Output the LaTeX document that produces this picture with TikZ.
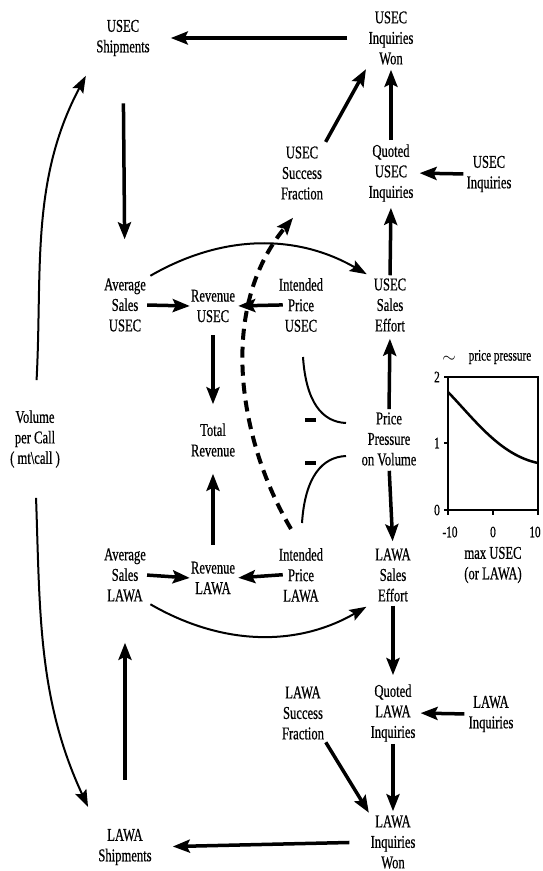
\documentclass[tikz,border=0pt]{standalone}
\usepackage{fontspec}
\setmainfont{Liberation Serif}[FakeStretch=0.7, FakeBold=0.6]
\usetikzlibrary{arrows.meta}

\begin{document}
\begin{tikzpicture}[
    x=1pt, y=1pt,
    every node/.style={align=center, inner sep=0pt, font=\fontsize{18}{20.5}\selectfont},
    arrow/.style={-{Stealth[length=17pt, width=13pt, inset=3pt]}, line width=3.5pt},
    curvearrow/.style={-{Stealth[length=17pt, width=12pt, inset=3pt]}, line width=2pt},
    feedback/.style={-{Stealth[length=17pt, width=13pt, inset=3pt]}, line width=4pt, dash pattern=on 11pt off 7pt},
    axis/.style={line width=1.2pt},
    small/.style={font=\fontsize{16}{18}\selectfont}
]
\useasboundingbox (0,0) rectangle (543,-871);

% Nodes
\node (shipU) at (123,-38) {USEC\\Shipments};
\node (wonU) at (391,-38) {USEC\\Inquiries\\Won};
\node (succU) at (302,-173) {USEC\\Success\\Fraction};
\node (quotU) at (391,-173) {Quoted\\USEC\\Inquiries};
\node (inqU) at (489,-174) {USEC\\Inquiries};

\node (avgU) at (125,-305) {Average\\Sales\\USEC};
\node (revU) at (213,-306) {Revenue\\USEC};
\node (intU) at (301,-305) {Intended\\Price\\USEC};
\node (effU) at (390,-305) {USEC\\Sales\\Effort};

\node (vol) at (35,-439) {Volume\\per Call\\( mt\textbackslash call )};
\node (total) at (213,-440) {Total\\Revenue};
\node (pp) at (389,-439) {Price\\Pressure\\on Volume};

\node (avgL) at (125,-575) {Average\\Sales\\LAWA};
\node (revL) at (213,-578) {Revenue\\LAWA};
\node (intL) at (301,-575) {Intended\\Price\\LAWA};
\node (effL) at (393,-575) {LAWA\\Sales\\Effort};

\node (succL) at (303,-713) {LAWA\\Success\\Fraction};
\node (quotL) at (393,-713) {Quoted\\LAWA\\Inquiries};
\node (inqL) at (491,-714) {LAWA\\Inquiries};
\node (wonL) at (393,-842) {LAWA\\Inquiries\\Won};
\node (shipL) at (125,-847) {LAWA\\Shipments};

% Edges
\draw[arrow, shorten <=21pt, shorten >=21pt] (wonU.west) -- (shipU.east);
\draw[arrow, shorten <=47pt, shorten >=39pt] (shipU.south) -- (avgU.north);
\draw[arrow, shorten <=4pt, shorten >=5pt] (quotU.north) -- (wonU.south);
\draw[arrow, shorten <=5pt, shorten >=5pt] (succU.north east) -- (wonU.south west);
\draw[arrow, shorten <=3pt, shorten >=6pt] (inqU.west) -- (quotU.east);
\draw[arrow, shorten <=3pt, shorten >=6pt] (effU.north) -- (quotU.south);

\draw[arrow, shorten <=1pt, shorten >=1pt] (avgU.east) -- (revU.west);
\draw[arrow, shorten <=-4pt, shorten >=3pt] (intU.west) -- (revU.east);
\draw[arrow, shorten <=13pt, shorten >=19pt] (revU.south) -- (total.north);
\draw[curvearrow, bend left=30, shorten <=5pt, shorten >=8pt] (avgU.north east) to (effU.north west);

\draw[arrow, shorten <=3pt, shorten >=7pt] (pp.north) -- (effU.south);
\draw[arrow, shorten <=5pt, shorten >=7pt] (pp.south) -- (effL.north);
\draw[arrow, shorten <=17pt, shorten >=17pt] (revL.north) -- (total.south);

\draw[arrow, shorten <=1pt, shorten >=1pt] (avgL.east) -- (revL.west);
\draw[arrow, shorten <=-4pt, shorten >=3pt] (intL.west) -- (revL.east);
\draw[curvearrow, bend right=30, shorten <=5pt, shorten >=10pt] (avgL.south east) to (effL.south west);

\draw[arrow, shorten <=4pt, shorten >=9pt] (effL.south) -- (quotL.north);
\draw[arrow, shorten <=4pt, shorten >=5pt] (inqL.west) -- (quotL.east);
\draw[arrow, shorten <=2pt, shorten >=4pt] (quotL.south) -- (wonL.north);
\draw[arrow, shorten <=3pt, shorten >=3pt] (succL.south east) -- (wonL.north west);
\draw[arrow, shorten <=21pt, shorten >=21pt] (wonL.west) -- (shipL.east);
\draw[arrow, shorten <=49pt, shorten >=41pt] (shipL.north) -- (avgL.south);

\draw[curvearrow, shorten <=30pt, shorten >=22pt] (vol.north) to[out=87, in=-118] (shipU.south west);
\draw[curvearrow, shorten <=30pt, shorten >=24pt] (vol.south) to[out=-88, in=115] (shipL.north west);

\draw[feedback] ([xshift=-10pt, yshift=19pt]intL.north) .. controls (239,-441) and (217,-310) .. ([xshift=-9pt, yshift=-18pt]succU.south);

% price pressure effects
\draw[line width=2pt] (303,-357) .. controls (306,-402) and (322,-422) .. (346,-423);
\draw[line width=2pt] (346,-456) .. controls (322,-457) and (305,-477) .. (302,-523);
\draw[line width=3.5pt] (305,-420) -- (316,-420);
\draw[line width=3.5pt] (305,-463) -- (316,-463);

% price pressure graph
\draw[axis] (448,-377) rectangle (538,-510);
\foreach \y/\v in {377/2, 443/1, 510/0}{
    \draw[axis] (444,-\y) -- (448,-\y);
    \node[small] (ytick\v) at (437,-\y) {\v};
}
\foreach \x/\lx/\v [count=\i] in {448/450/-10, 493/493/0, 538/535/10}{
    \draw[axis] (\x,-510) -- (\x,-515);
    \node[small] (xtick\i) at (\lx,-532) {\v};
}
\draw[line width=2.5pt] (448,-392) .. controls (475,-420) and (500,-455) .. (538,-463);
\node[small] (tilde) at (449,-359) {$\sim$};
\node[small] (ppname) at (500,-357) {price pressure};
\node (xname) at (493,-565) {max USEC\\(or LAWA)};

\end{tikzpicture}
\end{document}
